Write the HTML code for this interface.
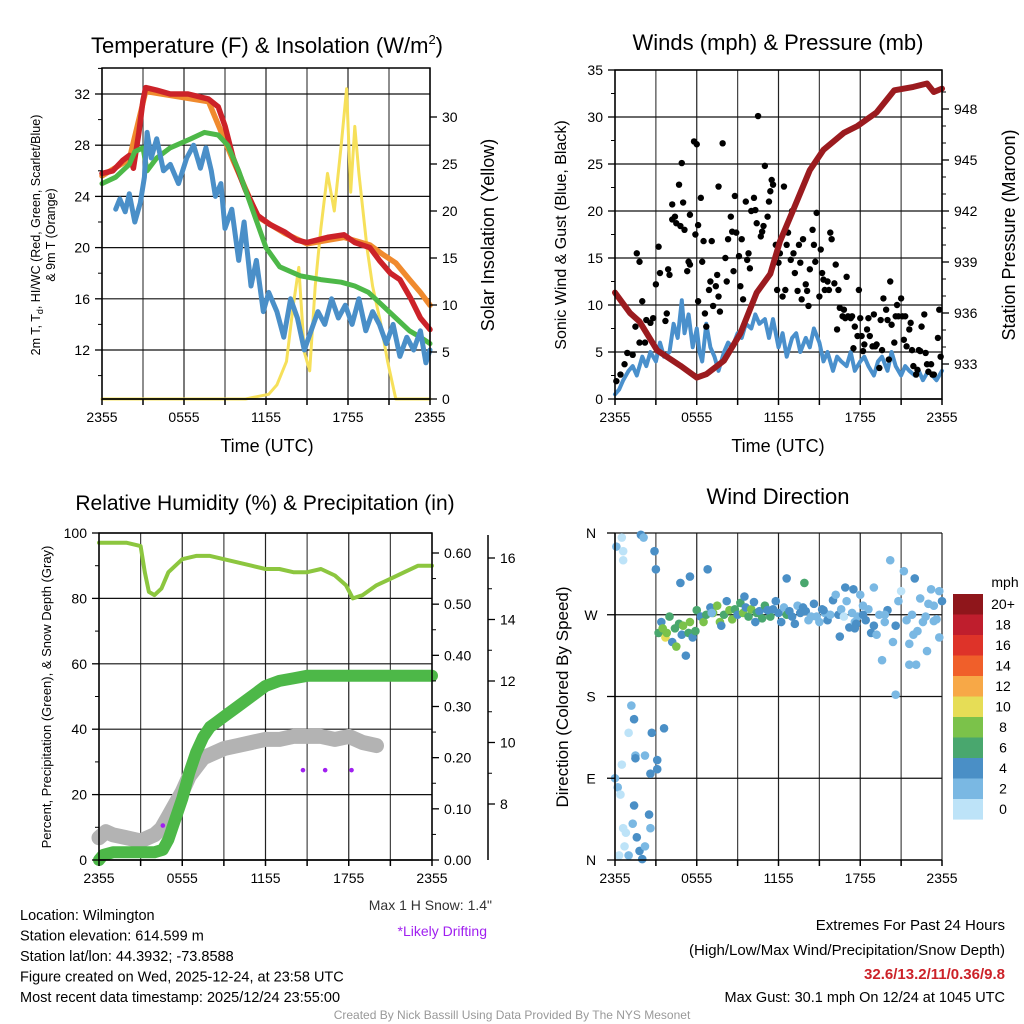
<!DOCTYPE html>
<html><head><meta charset="utf-8">
<style>
html,body{margin:0;padding:0;background:#fff;}
svg{display:block;font-family:"Liberation Sans",Arial,sans-serif;}
</style></head>
<body>
<svg id="c" width="1024" height="1024" viewBox="0 0 1024 1024" xmlns="http://www.w3.org/2000/svg">
<rect width="1024" height="1024" fill="#fff"/>
</svg>
<script>
// ---------- DATA ----------
const tRedH=[0,0.8,1.5,2,2.3,2.7,3.0,3.2,4,5,6.3,7.8,8.5,9.0,9.6,10.5,11.4,12.3,13.4,14.2,15.0,16.5,17.7,18.5,19.6,20.3,21.1,21.8,22.6,23.3,24];
const tRedV=[25.8,26,26.8,27.2,26.2,29,31.5,32.5,32.3,32,32,31.6,31,29.5,27,24.5,22.5,21.8,21.2,20.6,20.4,20.8,21,20.4,20,19,18,17.5,16,14.5,13.6];
const tOrgH=[0,2,3.2,7.8,9.6,11.4,13.4,15,17.7,19.6,20.5,21.5,22.5,23.3,24];
const tOrgV=[25.6,26.9,32.2,31.4,26.8,22.4,21.1,20.3,20.8,20.2,19.5,18.8,17.5,16.5,15.5];
const tGrnH=[0,1,2,2.4,3,3.3,4,5,6.5,7.5,8.5,9.2,10,11,12,13,14.5,16,17.5,18.5,19.5,20.5,21.5,22.5,23.3,24];
const tGrnV=[25,25.5,26.5,27.5,27.8,26,27,27.8,28.5,29,28.8,28,26,23,20,18.5,17.8,17.5,17.3,17,16.5,15.5,14.5,13.5,13,12.5];
const tBluH=[1,1.3,1.7,2,2.4,2.8,3.1,3.3,3.6,4,4.5,5,5.6,6.2,6.7,7.2,7.6,8,8.3,8.7,9,9.5,10,10.4,10.9,11.3,11.8,12.2,12.8,13.3,13.8,14.3,14.8,15.3,15.8,16.3,16.8,17.3,17.8,18.3,18.8,19.3,19.8,20.3,20.8,21.3,21.8,22.3,22.8,23.3,23.7,24];
const tBluV=[23,23.8,22.8,24.2,22,23.5,25.5,29,27,28.5,26,26.5,25,27,28,26.2,27.8,26,24,25,21.5,23,19,22,17,19,15,16.5,15,13,16,14.5,12,13.5,15,14,16,14.5,15.5,14,16,13.5,15,14,12.5,14,11.5,13,12,13.5,11,12];
const solH=[0,10.5,12.2,12.8,13.5,14.0,14.4,14.8,15.2,15.6,16,16.5,17.0,17.5,17.9,18.2,18.5,18.8,19.1,19.4,19.8,20.4,20.9,21.5,24];
const solV=[0,0,0.5,1.5,4,10,14,5,3,12,18,24,20,27,33,22,29,24,20,16,12,8,4,0,0];
const windH=[0,0.3,0.6,1,1.3,1.6,2,2.3,2.6,3,3.3,3.6,4,4.3,4.6,4.9,5.1,5.4,5.7,6,6.2,6.4,6.7,7,7.3,7.6,8,8.3,8.6,9,9.3,9.6,10,10.3,10.6,11,11.3,11.6,12,12.3,12.6,13,13.3,13.6,14,14.3,14.6,15,15.3,15.6,16,16.3,16.6,17,17.3,17.6,18,18.3,18.6,19,19.3,19.6,20,20.3,20.6,21,21.3,21.6,22,22.3,22.6,23,23.3,23.6,24];
const windV=[0.5,1,2,3,3.5,2.5,4.5,3.5,5,4,6,4.5,5,8,6.5,10.5,7,9,5.5,7.5,5,4,8,5.5,4.5,3,5,6,5.5,7,6.5,8,7.5,9,8,8.5,6.5,8.5,5.5,7,4.5,6.5,7,5,6.5,5.5,7.5,6,4,5,3,4.5,4,3.5,5,3,4,4.5,3.5,2.5,4,4.5,3,5,3.5,2.5,3.5,3,2.5,3,2,3,2.5,2,3];
const gustH=[0.1,0.4,0.7,0.9,1.3,1.5,1.6,1.8,1.8,2.0,2.2,2.3,2.6,2.8,3.0,3.2,3.3,3.7,3.8,3.9,4.0,4.2,4.2,4.4,4.5,4.7,4.8,4.9,5.0,5.1,5.3,5.4,5.5,5.5,5.8,5.9,6.0,6.1,6.1,6.3,6.4,6.5,6.6,6.7,6.9,7.0,7.1,7.2,7.4,7.5,7.6,7.6,7.7,7.9,8.1,8.2,8.3,8.5,8.6,8.7,8.8,8.9,9.1,9.2,9.3,9.4,9.6,9.7,9.8,9.9,10.0,10.2,10.3,10.4,10.5,10.7,10.8,10.9,11.0,11.2,11.3,11.4,11.5,11.6,11.8,11.9,12.0,12.1,12.3,12.4,12.5,12.6,12.7,12.9,13.0,13.1,13.2,13.4,13.5,13.6,13.7,13.8,14.0,14.1,14.2,14.3,14.5,14.6,14.7,14.8,15.0,15.1,15.2,15.3,15.4,15.6,15.7,15.8,15.9,16.1,16.2,16.3,16.4,16.5,16.7,16.8,16.9,17.0,17.1,17.3,17.4,17.5,17.6,17.8,17.9,18.0,18.1,18.2,18.3,18.5,18.6,18.7,18.9,19.0,19.1,19.2,19.4,19.5,19.6,19.7,19.9,20.0,20.1,20.2,20.3,20.5,20.6,20.7,20.8,21.0,21.1,21.2,21.3,21.4,21.6,21.7,21.8,21.9,22.1,22.2,22.3,22.4,22.5,22.7,22.8,22.9,23.0,23.2,23.3,23.4,23.7,23.8,23.9];
const gustV=[1.9,2.6,3.7,4.9,4.7,7.7,15.5,14.6,6,10.4,6,8.4,8.1,8.6,12.2,16.2,13.4,8.3,9.1,13.8,13.2,19.1,20.7,19.4,18.7,22.8,18.4,25.1,20.9,18,13.6,14.6,19.6,14.3,27.4,17.5,27.1,10.4,18.5,21.4,14.6,16.8,9.1,7.7,11.6,12.5,16.8,9.9,12,13.2,10.9,22.6,9.3,27.2,15,12.5,17,19.4,17.8,13.6,21.6,17.7,15.2,12,17,10.6,21,14.8,15.5,13.9,20,21.4,20.1,18.7,30.1,17.3,17.8,18.4,24.8,19.4,21,22.1,23.3,22.8,16.4,11.6,14.5,15.5,10.9,22.6,11.6,16.4,17.7,14.8,20,15.5,13.4,11.5,16.4,14.5,10.6,17,12.2,11.5,9.9,13.8,18,16.4,14.6,19.8,10.9,15.9,13.4,12.7,11.6,12.5,11.6,17.7,17,12.3,14.3,7.4,11.6,9.7,8.8,9.5,8.6,13,8.8,8.6,8.8,5.4,7.7,6.7,11.6,8.6,6.7,5.1,5.8,7.4,8.6,6.7,5.6,9,5.6,5.8,3.3,8.4,5.2,10.7,9.5,8.4,4.2,12.5,7.9,6,8.8,10,8.8,10.7,8.8,6.3,8.8,5.6,7.4,8.1,5.2,3.5,2.6,3.1,5.2,5.1,7.7,9,4.9,3.7,2.9,3.7,2.6,2.6,6.5,9.5,4.5];
const presH=[0,1.1,1.8,3.1,4.8,6.0,6.7,8.0,9.2,10.4,11.4,12.1,13.1,14.3,15.3,16.8,17.8,19.2,20.5,21.9,22.9,23.4,24];
const presV=[937.2,936,935.5,933.8,932.9,932.2,932.4,933.2,934.8,937.2,938.3,940.2,942.1,944.4,945.6,946.6,947,947.8,949.1,949.3,949.5,949,949.2];
const rhH=[0,1,2,3,3.3,3.6,4,4.5,5,6,7,8,9,10,11,12,13,14,15,16,17,17.8,18.3,19,20,21,22,23,24];
const rhV=[97,97,97,96,88,82,81,83,88,92,93,93,92,91,90,89,89,88,88,89,87,84,80,81,84,86,88,90,90];
const prH=[0,0.3,1,2,3,4,4.6,5,5.5,6,6.5,7,7.5,8,8.5,9,10,11,12,13,14,15,16,18,20,24];
const prV=[0,0.01,0.015,0.015,0.015,0.015,0.02,0.04,0.08,0.12,0.17,0.21,0.24,0.26,0.27,0.28,0.3,0.32,0.34,0.35,0.355,0.36,0.36,0.36,0.36,0.36];
const snH=[0,0.5,1,2,3,4,4.5,5,5.5,6,6.5,7,7.5,8,9,10,11,12,13,14,15,16,17,18,19,20];
const snV=[6.9,7.1,7,6.9,6.8,7,7.2,7.6,8,8.4,8.9,9.2,9.5,9.6,9.8,9.9,10,10.1,10.1,10.2,10.2,10.2,10.1,10.2,10,9.9];
const driftH=[4.6,14.7,16.3,18.2];
const driftV=[7.3,9.1,9.1,9.1];
const dirH=[0.1,0.5,0.6,0.6,1.9,2.1,2.9,3.0,0,0.2,0.4,0.6,0.8,0.7,0.3,1.0,1.6,1.8,2.0,2.2,2.6,1.4,2.5,1.3,1.2,1.4,1.0,2.7,3.6,1.5,1.5,2.2,3.1,3.1,2.6,0.5,
3.2,3.4,3.5,3.7,3.8,4.0,4.2,4.4,4.5,4.7,4.9,5.0,5.2,5.4,5.5,5.7,5.9,6.0,6.3,6.5,6.7,7.0,7.2,7.5,7.7,8.0,8.2,8.4,8.6,8.8,9.0,9.2,9.4,9.6,9.8,10.0,10.2,10.4,10.6,10.8,11.0,11.2,11.4,11.6,11.8,12.0,12.2,12.4,12.6,12.8,13.0,13.2,13.4,13.6,13.8,14.0,14.2,14.4,14.6,14.8,15.0,15.2,15.4,15.6,15.8,16.0,16.2,16.4,16.6,16.8,17.0,17.2,17.4,17.6,17.8,18.0,18.2,18.4,18.6,18.8,19.0,19.2,19.4,19.6,19.8,20.0,20.2,20.4,20.6,20.8,21.0,21.2,21.4,21.6,21.8,22.0,22.2,22.4,22.6,22.8,23.0,23.2,23.4,23.6,23.8,24.0,
7.1,7.8,9.5,10.3,11.2,12.6,4.8,5.5,6.8,13.9,15.3,16.9,17.5,18.2,19.0,17.7,17.6,16.5,19.8,21.9,22.9,20.6,21.6,22.1,23.8,23.4];
const dirV=[345,355,340,330,358,355,340,320,90,80,72,35,30,15,5,5,25,10,1,15,35,60,50,40,170,155,140,140,145,115,112,115,110,100,95,105,
250,262,255,245,250,268,240,255,235,260,248,258,225,250,262,245,252,275,268,262,270,278,272,280,262,270,285,275,265,276,270,283,272,278,268,276,284,272,274,266,280,275,268,276,285,272,262,278,270,274,268,260,280,272,278,274,264,268,282,268,262,276,272,264,270,286,292,270,276,268,285,256,272,262,268,292,280,264,276,250,300,248,270,220,262,275,330,240,258,285,296,318,264,238,270,310,252,288,262,268,282,298,280,265,296,285,272,258,290,262,
275,310,305,312,320,305,275,300,298,270,258,260,255,246,270,248,230,182,215,215,245,263,240,250,270,286];
const dirS=[1,0,0,0,3,2,4,4,1,1,0,0,0,0,0,2,3,4,3,2,2,3,3,2,2,4,0,3,3,2,4,2,3,4,3,0,
6,4,7,10,8,5,4,6,8,6,4,7,4,6,8,4,6,6,4,7,6,4,8,7,8,6,4,7,8,6,4,6,7,4,6,8,4,6,4,6,5,4,6,4,4,3,4,2,6,4,3,3,2,4,3,4,2,2,3,2,2,3,2,4,2,3,2,3,2,0,2,3,2,2,2,2,2,4,2,4,2,2,1,2,2,3,2,2,4,2,0,2,2,2,2,3,2,1,2,2,2,2,2,2,2,3,2,
4,4,4,4,4,4,4,4,6,4,4,4,4,4,4,4,3,2,2,2,2,2,2,2,2,2];
const cbLabels=["20+","18","16","14","12","10","8","6","4","2","0"];
const cbColors=["#8f161b","#bf1e2d","#de3329","#f05f2a","#f7a847","#e6dd56","#7bc24a","#49a76e","#4a8fc6","#7ab8e3","#bde3f8"];
const xTickLabels=["2355","0555","1155","1755","2355"];

// ---------- helpers ----------
const NS="http://www.w3.org/2000/svg";
const svg=document.getElementById('c');
function mk(tag,attrs,parent){const e=document.createElementNS(NS,tag);for(const k in attrs)e.setAttribute(k,attrs[k]);(parent||svg).appendChild(e);return e;}
function txt(x,y,s,size,anchor,extra,name,parent){const e=mk('text',Object.assign({x:x,y:y,'font-size':size,'text-anchor':anchor||'middle',fill:'#000'},extra||{}),parent);e.textContent=s;


return e;}
function lin(d0,d1,r0,r1){return v=>r0+(v-d0)*(r1-r0)/(d1-d0);}
function pathFrom(H,V,sx,sy){return H.map((h,i)=>(i?'L':'M')+sx(h).toFixed(1)+' '+sy(V[i]).toFixed(1)).join(' ');}
function line(H,V,sx,sy,color,w,name,g){const p=mk('path',{d:pathFrom(H,V,sx,sy),fill:'none',stroke:color,'stroke-width':w,'stroke-linejoin':'round','stroke-linecap':'round'},g);


return p;}
function grid(x0,x1,y0,y1,g,hys){
  for(let i=0;i<=8;i++){const x=x0+(x1-x0)*i/8;const l=mk('line',{x1:x,x2:x,y1:y0,y2:y1,stroke:i%2? '#444':'#222','stroke-width':1.2},g);
  
  }
  hys.forEach(y=>{const l=mk('line',{x1:x0,x2:x1,y1:y,y2:y,stroke:'#111','stroke-width':1.2},g);
  
  });
}
function xAxis(x0,x1,y,g){
  mk('line',{x1:x0,x2:x1,y1:y,y2:y,stroke:'#000','stroke-width':1.5},g);
  for(let i=0;i<=8;i++){const x=x0+(x1-x0)*i/8;mk('line',{x1:x,x2:x,y1:y,y2:y+6,stroke:'#000','stroke-width':1.5},g);}
  xTickLabels.forEach((s,i)=>txt(x0+(x1-x0)*i/4,y+23,s,14,'middle',null,'x-tick-label',g));
}
function yTicks(x,vals,sy,dir,labels,g,name,minor){
  vals.forEach((v,i)=>{const y=sy(v);mk('line',{x1:x,x2:x+dir*7,y1:y,y2:y,stroke:'#000','stroke-width':1.3},g);
    if(labels) txt(x+dir*12,y+5,labels[i],14,dir<0?'end':'start',null,name,g);});
  (minor||[]).forEach(v=>{const y=sy(v);mk('line',{x1:x,x2:x+dir*4,y1:y,y2:y,stroke:'#000','stroke-width':1},g);});
}
function group(name){const g=mk('g',{});


return g;}

// ---------- Panel 1 ----------
(function(){
const g=group('temperature-panel');
const X0=102,X1=430,YT=68,YB=399;
const sx=lin(0,24,X0,X1), sy=lin(32,12,94,350), ss=lin(0,30,399,117);
grid(X0,X1,YT,YB,g,[12,16,20,24,28,32].map(sy));
line(solH,solV,sx,ss,'#f6e05a',3,'insolation-line',g);
line(tOrgH,tOrgV,sx,sy,'#f08a2e',5.5,'9m-temp-line',g);
line(tRedH,tRedV,sx,sy,'#cc2229',5.5,'2m-temp-line',g);
line(tGrnH,tGrnV,sx,sy,'#4db848',5,'dewpoint-line',g);
line(tBluH,tBluV,sx,sy,'#4a8fc8',5,'windchill-line',g);
mk('rect',{x:X0,y:YT,width:X1-X0,height:YB-YT,fill:'none',stroke:'#000','stroke-width':1.5},g);
xAxis(X0,X1,YB,g);
yTicks(X0,[12,16,20,24,28,32],sy,-1,["12","16","20","24","28","32"],g,'y-tick-label',[10,14,18,22,26,30,34]);
yTicks(X1,[0,5,10,15,20,25,30],ss,1,["0","5","10","15","20","25","30"],g,'y2-tick-label');
const t=txt(267,53,'',22,'middle',null,'chart-title',g);t.innerHTML='Temperature (F) &amp; Insolation (W/m<tspan font-size="13" dy="-9">2</tspan><tspan dy="9">)</tspan>';
txt(267,452,'Time (UTC)',18,'middle',null,'x-axis-title',g);
const yl=txt(0,0,'',12.5,'middle',{transform:'translate(40,235) rotate(-90)'},'y-axis-title',g);
yl.innerHTML='<tspan x="0" dy="0">2m T, T<tspan font-size="9" dy="3">d</tspan><tspan dy="-3">, HI/WC (Red, Green, Scarlet/Blue)</tspan></tspan><tspan x="0" dy="15">&amp; 9m T (Orange)</tspan>';
txt(0,0,'Solar Insolation (Yellow)',18,'middle',{transform:'translate(494,235) rotate(-90)'},'y2-axis-title',g);
})();

// ---------- Panel 2 ----------
(function(){
const g=group('winds-panel');
const X0=615,X1=942,YT=70,YB=399;
const sx=lin(0,24,X0,X1), sy=lin(0,35,399,70), sp=lin(933,948,364,109);
grid(X0,X1,YT,YB,g,[5,10,15,20,25,30,35].map(sy));
line(windH,windV,sx,sy,'#4a90cc',4,'wind-speed-line',g);
gustH.forEach((h,i)=>{const c=mk('circle',{cx:sx(h),cy:sy(gustV[i]),r:3.2,fill:'#000'},g);

});
line(presH,presV,sx,sp,'#9b1b1f',6,'pressure-line',g);
mk('rect',{x:X0,y:YT,width:X1-X0,height:YB-YT,fill:'none',stroke:'#000','stroke-width':1.5},g);
xAxis(X0,X1,YB,g);
yTicks(X0,[0,5,10,15,20,25,30,35],sy,-1,["0","5","10","15","20","25","30","35"],g,'y-tick-label',[2.5,7.5,12.5,17.5,22.5,27.5,32.5]);
yTicks(X1,[933,936,939,942,945,948],sp,1,["933","936","939","942","945","948"],g,'y2-tick-label',[934,935,937,938,940,941,943,944,946,947,949]);
txt(778,50,'Winds (mph) & Pressure (mb)',22,'middle',null,'chart-title',g);
txt(778,452,'Time (UTC)',18,'middle',null,'x-axis-title',g);
txt(0,0,'Sonic Wind & Gust (Blue, Black)',16,'middle',{transform:'translate(566,235) rotate(-90)'},'y-axis-title',g);
txt(0,0,'Station Pressure (Maroon)',18,'middle',{transform:'translate(1015,235) rotate(-90)'},'y2-axis-title',g);
})();

// ---------- Panel 3 ----------
(function(){
const g=group('humidity-panel');
const X0=99,X1=432,YT=533,YB=860;
const sx=lin(0,24,X0,X1), sy=lin(0,100,860,533), sp=lin(0,0.6,860,553), sn=lin(8,16,804,558);
grid(X0,X1,YT,YB,g,[20,40,60,80,100].map(sy));
line(snH,snV,sx,sn,'#b3b3b3',15,'snow-depth-line',g);
driftH.forEach((h,i)=>{const c=mk('circle',{cx:sx(h),cy:sn(driftV[i]),r:2.3,fill:'#a020f0'},g);

});
line(prH,prV,sx,sp,'#4db848',12,'precip-line',g);
line(rhH,rhV,sx,sy,'#8cc63f',4,'rh-line',g);
mk('rect',{x:X0,y:YT,width:X1-X0,height:YB-YT,fill:'none',stroke:'#000','stroke-width':1.5},g);
xAxis(X0,X1,YB,g);
yTicks(X0,[0,20,40,60,80,100],sy,-1,["0","20","40","60","80","100"],g,'y-tick-label',[10,30,50,70,90]);
yTicks(X1,[0,0.1,0.2,0.3,0.4,0.5,0.6],sp,1,["0.00","0.10","0.20","0.30","0.40","0.50","0.60"],g,'y2-tick-label',[0.05,0.15,0.25,0.35,0.45,0.55]);
mk('line',{x1:488,x2:488,y1:535,y2:860,stroke:'#000','stroke-width':1.5},g);
yTicks(488,[8,10,12,14,16],sn,1,["8","10","12","14","16"],g,'y3-tick-label',[9,11,13,15]);
txt(265,510,'Relative Humidity (%) & Precipitation (in)',21,'middle',null,'chart-title',g);
txt(0,0,'Percent, Precipitation (Green), & Snow Depth (Gray)',13,'middle',{transform:'translate(51,697) rotate(-90)'},'y-axis-title',g);
txt(492,910,'Max 1 H Snow: 1.4"',14,'end',{fill:'#333'},'max-snow-note',g);
txt(487,936,'*Likely Drifting',14,'end',{fill:'#a020f0'},'drifting-note',g);
})();

// ---------- Panel 4 ----------
(function(){
const g=group('wind-direction-panel');
const X0=615,X1=942,YT=533,YB=860;
const sx=lin(0,24,X0,X1), sy=lin(0,360,860,533);
grid(X0,X1,YT,YB,g,[90,180,270,360].map(sy));
const sc=s=>cbColors[10-Math.max(0,Math.min(10,Math.round(s/2)))];
dirH.forEach((h,i)=>{const c=mk('circle',{cx:sx(h),cy:sy(dirV[i]),r:4.3,fill:sc(dirS[i])},g);

});
mk('line',{x1:X0,x2:X0,y1:YT,y2:YB,stroke:'#000','stroke-width':1.5},g);
xAxis(X0,X1,YB,g);
[[0,'N'],[90,'E'],[180,'S'],[270,'W'],[360,'N']].forEach(d=>{const y=sy(d[0]);mk('line',{x1:X0-8,x2:X0,y1:y,y2:y,stroke:'#000','stroke-width':1.3},g);txt(591,y+5,d[1],14,'middle',null,'y-tick-label',g);});
txt(778,504,'Wind Direction',22,'middle',null,'chart-title',g);
txt(0,0,'Direction (Colored By Speed)',17,'middle',{transform:'translate(568,697) rotate(-90)'},'y-axis-title',g);
const lg=group('speed-colorbar');
cbColors.forEach((c,i)=>{const r=mk('rect',{x:953,y:594+i*20.5,width:30,height:20.6,fill:c},lg);


txt(1003,609+i*20.5,cbLabels[i],14,'middle',null,'colorbar-label',lg);});
txt(1005,587,'mph',14,'middle',null,'colorbar-title',lg);
})();

// ---------- footer text ----------
(function(){
const g=group('station-info');
const L=["Location: Wilmington","Station elevation: 614.599 m","Station lat/lon: 44.3932; -73.8588","Figure created on Wed, 2025-12-24, at 23:58 UTC","Most recent data timestamp: 2025/12/24 23:55:00"];
L.forEach((s,i)=>txt(20,920+i*20.5,s,14.5,'start',null,'info-line',g));
txt(1005,930,'Extremes For Past 24 Hours',15,'end',null,'extremes-title',g);
txt(1005,955,'(High/Low/Max Wind/Precipitation/Snow Depth)',15,'end',null,'extremes-subtitle',g);
txt(1005,979,'32.6/13.2/11/0.36/9.8',15,'end',{fill:'#cc2229','font-weight':'bold'},'extremes-values',g);
txt(1005,1002,'Max Gust: 30.1 mph On 12/24 at 1045 UTC',14.5,'end',null,'max-gust',g);
txt(512,1019,'Created By Nick Bassill Using Data Provided By The NYS Mesonet',12,'middle',{fill:'#999'},'credit',g);
})();
</script>
</body></html>
